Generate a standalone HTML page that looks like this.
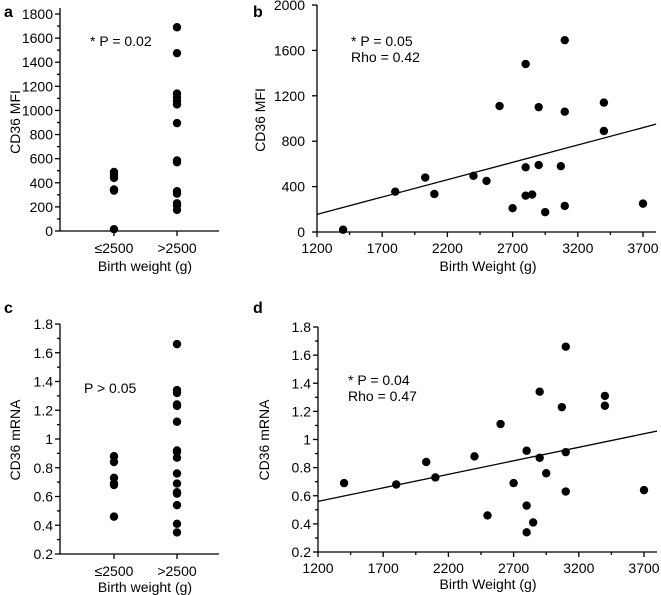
<!DOCTYPE html>
<html><head><meta charset="utf-8"><style>
body{margin:0;background:#fff}
svg{display:block;font-family:"Liberation Sans",Arial,sans-serif}
</style></head><body>
<svg id="s" width="661" height="595" viewBox="0 0 661 595"></svg>
<script>
// Panel a data
const aCats=["≤2500",">2500"];
const aLow=[490,470,440,345,335,15];
const aHigh=[1690,1475,1140,1110,1080,1050,895,585,570,330,310,230,210,175];
const aTicks=[0,200,400,600,800,1000,1200,1400,1600,1800];
// Panel b data
const bX=[1400,1800,2030,2100,2400,2500,2600,2700,2800,2800,2800,2850,2900,2900,2950,3070,3100,3100,3100,3400,3400,3700];
const bY=[20,355,480,335,495,450,1110,210,1480,570,320,330,1100,590,175,580,1690,1060,230,1140,890,250];
const bLine=[155,950];
const bYTicks=[0,400,800,1200,1600,2000];
const xTicks=[1200,1700,2200,2700,3200,3700];
// Panel c data
const cLow=[0.88,0.84,0.73,0.69,0.68,0.46];
const cHigh=[1.66,1.34,1.32,1.24,1.23,1.12,0.92,0.91,0.87,0.76,0.69,0.63,0.62,0.54,0.41,0.35];
const cTicks=["0.2","0.4","0.6","0.8","1","1.2","1.4","1.6","1.8"];
// Panel d data
const dX=[1400,1800,2030,2100,2400,2500,2600,2700,2800,2800,2800,2850,2900,2900,2950,3070,3100,3100,3100,3400,3400,3700];
const dY=[0.69,0.68,0.84,0.73,0.88,0.46,1.11,0.69,0.92,0.53,0.34,0.41,1.34,0.87,0.76,1.23,1.66,0.91,0.63,1.31,1.24,0.64];
const dLine=[0.56,1.06];

const S=document.getElementById('s');const NS='http://www.w3.org/2000/svg';
function el(t,a,txt){const e=document.createElementNS(NS,t);for(const k in a)e.setAttribute(k,a[k]);if(txt!=null)e.textContent=txt;S.appendChild(e);return e;}
function ln(x1,y1,x2,y2,name){const e=el('line',{x1,y1,x2,y2,stroke:'#000','stroke-width':1.3});

return e;}
function tx(x,y,s,anchor,name,extra){const e=el('text',Object.assign({x,y,'font-size':14,'text-anchor':anchor,fill:'#000'},extra||{}),s);

return e;}
function dot(x,y,name){const e=el('circle',{cx:x,cy:y,r:4.2,fill:'#000'});

}
function lin(d0,d1,p0,p1){return v=>p0+(v-d0)*(p1-p0)/(d1-d0);}

// ----- Panel a -----
{const y=lin(0,1800,231,14),x0=60,xe=219,cx=[114,177];
ln(x0,8,x0,231,'a-y-axis');ln(x0,231,xe,231,'a-x-axis');
for(let v=0;v<=1800;v+=100){ln(x0-(v%200?3:5),y(v),x0,y(v),'a-y-tick');}
aTicks.forEach(v=>tx(53,y(v)+5,String(v),'end','a-y-tick-label'));
cx.forEach((c,i)=>{ln(c,231,c,236,'a-x-tick');tx(c,253,aCats[i],'middle','a-x-tick-label');});
aLow.forEach(v=>dot(cx[0],y(v),'a-point-low'));aHigh.forEach(v=>dot(cx[1],y(v),'a-point-high'));
tx(145,271,'Birth weight (g)','middle','a-x-axis-title');
tx(20,122,'CD36 MFI','middle','a-y-axis-title',{transform:'rotate(-90 20 122)'});
tx(90,46,'* P = 0.02','start','a-annotation');
tx(4,17,'a','start','a-panel-label',{'font-weight':'bold','font-size':16});}

// ----- Panel b -----
{const x=lin(1200,3700,317,643),y=lin(0,2000,232,5),xe=656;
ln(317,5,317,232,'b-y-axis');ln(317,232,xe,232,'b-x-axis');
bYTicks.forEach(v=>{ln(312,y(v),317,y(v),'b-y-tick');tx(305,y(v)+5,String(v),'end','b-y-tick-label');});
for(let v=1200;v<=3800;v+=250){ln(x(v),232,x(v),(v-1200)%500?235:237,'b-x-tick');}
xTicks.forEach(v=>tx(x(v),253,String(v),'middle','b-x-tick-label'));
ln(x(1200),y(bLine[0]),x(3800),y(bLine[1]),'b-regression-line');
bX.forEach((v,i)=>dot(x(v),y(bY[i]),'b-point'));
tx(488,271,'Birth Weight (g)','middle','b-x-axis-title');
tx(265,120,'CD36 MFI','middle','b-y-axis-title',{transform:'rotate(-90 265 120)'});
tx(351,46,'* P = 0.05','start','b-annotation-p');tx(351,62,'Rho = 0.42','start','b-annotation-rho');
tx(253,17,'b','start','b-panel-label',{'font-weight':'bold','font-size':16});}

// ----- Panel c -----
{const y=lin(0.2,1.8,554,324),x0=60,xe=219,cx=[114,177];
ln(x0,324,x0,554,'c-y-axis');ln(x0,554,xe,554,'c-x-axis');
for(let i=0;i<=16;i++){const v=0.2+i*0.1;ln(x0-(i%2?3:5),y(v),x0,y(v),'c-y-tick');}
cTicks.forEach(s=>tx(53,y(parseFloat(s))+5,s,'end','c-y-tick-label'));
cx.forEach((c,i)=>{ln(c,554,c,559,'c-x-tick');tx(c,576,aCats[i],'middle','c-x-tick-label');});
cLow.forEach(v=>dot(cx[0],y(v),'c-point-low'));cHigh.forEach(v=>dot(cx[1],y(v),'c-point-high'));
tx(145,592,'Birth weight (g)','middle','c-x-axis-title');
tx(20,440,'CD36 mRNA','middle','c-y-axis-title',{transform:'rotate(-90 20 440)'});
tx(84,393,'P > 0.05','start','c-annotation');
tx(4,313,'c','start','c-panel-label',{'font-weight':'bold','font-size':16});}

// ----- Panel d -----
{const x=lin(1200,3700,318,644),y=lin(0.2,1.8,552,327),xe=657;
ln(318,327,318,552,'d-y-axis');ln(318,552,xe,552,'d-x-axis');
for(let i=0;i<=16;i++){const v=0.2+i*0.1;ln(318-(i%2?3:5),y(v),318,y(v),'d-y-tick');}
cTicks.forEach(s=>tx(311,y(parseFloat(s))+5,s,'end','d-y-tick-label'));
for(let v=1200;v<=3800;v+=250){ln(x(v),552,x(v),(v-1200)%500?555:557,'d-x-tick');}
xTicks.forEach(v=>tx(x(v),573,String(v),'middle','d-x-tick-label'));
ln(x(1200),y(dLine[0]),x(3800),y(dLine[1]),'d-regression-line');
dX.forEach((v,i)=>dot(x(v),y(dY[i]),'d-point'));
tx(488,589,'Birth Weight (g)','middle','d-x-axis-title');
tx(269,440,'CD36 mRNA','middle','d-y-axis-title',{transform:'rotate(-90 269 440)'});
tx(348,385,'* P = 0.04','start','d-annotation-p');tx(348,401,'Rho = 0.47','start','d-annotation-rho');
tx(253,313,'d','start','d-panel-label',{'font-weight':'bold','font-size':16});}
</script>
</body></html>
